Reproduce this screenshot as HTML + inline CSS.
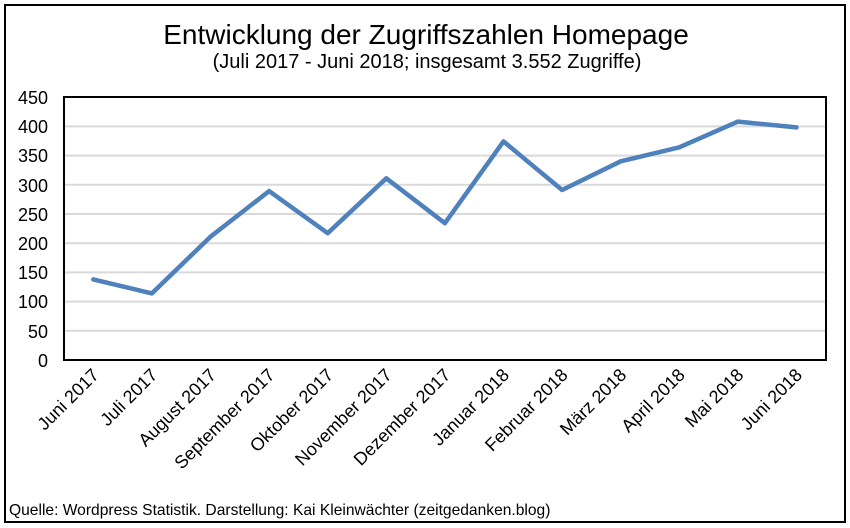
<!DOCTYPE html><html><head><style>body{margin:0;background:#fff}svg{display:block}text{font-family:"Liberation Sans",Arial,sans-serif;fill:#000}</style></head><body>
<svg width="850" height="528" viewBox="0 0 850 528">
<rect x="5" y="5" width="840" height="517" fill="#fff" stroke="#000" stroke-width="2"/>
<text x="426" y="44" font-size="28" text-anchor="middle">Entwicklung der Zugriffszahlen Homepage</text>
<text x="427" y="68" font-size="20" text-anchor="middle">(Juli 2017 - Juni 2018; insgesamt 3.552 Zugriffe)</text>
<g stroke="#d9d9d9" stroke-width="2">
<line x1="64" x2="826" y1="126.4" y2="126.4"/><line x1="64" x2="826" y1="155.6" y2="155.6"/><line x1="64" x2="826" y1="184.8" y2="184.8"/><line x1="64" x2="826" y1="214" y2="214"/><line x1="64" x2="826" y1="243.2" y2="243.2"/><line x1="64" x2="826" y1="272.4" y2="272.4"/><line x1="64" x2="826" y1="301.6" y2="301.6"/><line x1="64" x2="826" y1="330.8" y2="330.8"/>
</g>
<rect x="64" y="97" width="762" height="263" fill="none" stroke="#000" stroke-width="2"/>
<g font-size="18" text-anchor="end">
<text x="48" y="104">450</text><text x="48" y="133">400</text><text x="48" y="162">350</text><text x="48" y="192">300</text><text x="48" y="221">250</text><text x="48" y="250">200</text><text x="48" y="279">150</text><text x="48" y="308">100</text><text x="48" y="338">50</text><text x="48" y="367">0</text>
</g>
<polyline fill="none" stroke="#4f81bd" stroke-width="4.5" stroke-linejoin="round" stroke-linecap="round" points="93.3,279.4 151.9,293.4 210.5,236.7 269.1,191.1 327.7,233.2 386.3,178.3 444.9,223.2 503.5,141.4 562.1,190 620.7,161.3 679.3,147.3 737.9,121.6 796.5,127.4"/>
<g font-size="18" text-anchor="end">
<text transform="translate(100,376) rotate(-45)">Juni 2017</text>
<text transform="translate(158.6,376) rotate(-45)">Juli 2017</text>
<text transform="translate(217.2,376) rotate(-45)">August 2017</text>
<text transform="translate(275.8,376) rotate(-45)">September 2017</text>
<text transform="translate(334.4,376) rotate(-45)">Oktober 2017</text>
<text transform="translate(393,376) rotate(-45)">November 2017</text>
<text transform="translate(451.6,376) rotate(-45)">Dezember 2017</text>
<text transform="translate(510.2,376) rotate(-45)">Januar 2018</text>
<text transform="translate(568.8,376) rotate(-45)">Februar 2018</text>
<text transform="translate(627.4,376) rotate(-45)">März 2018</text>
<text transform="translate(686,376) rotate(-45)">April 2018</text>
<text transform="translate(744.6,376) rotate(-45)">Mai 2018</text>
<text transform="translate(803.2,376) rotate(-45)">Juni 2018</text>
</g>
<text x="9" y="515" font-size="15.6">Quelle: Wordpress Statistik. Darstellung: Kai Kleinwächter (zeitgedanken.blog)</text>
</svg>
</body></html>
